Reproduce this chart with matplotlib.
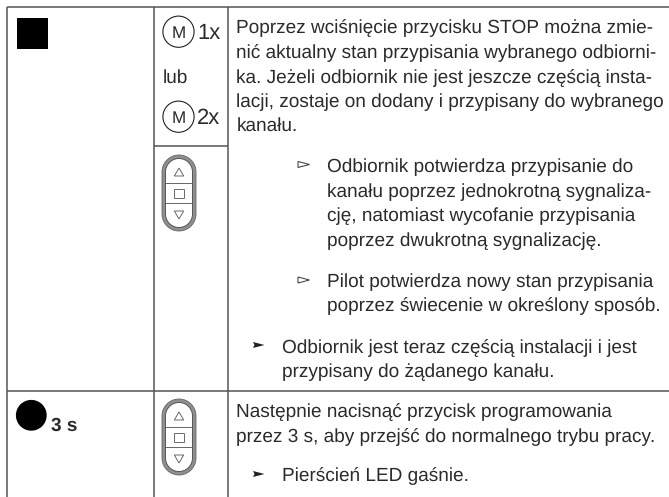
import numpy as np
import matplotlib
matplotlib.use("Agg")
import matplotlib.pyplot as plt
from matplotlib.patches import Circle, Rectangle, Polygon

plt.rcParams["text.hinting"] = "no_hinting"
plt.rcParams["text.hinting_factor"] = 1

W, H = 669, 497
FONT = "Liberation Sans"
INK = "#2b2b2b"
LINE = "#555555"
FS = 13.65

para_lines = [
    (236.5, 33, "Poprzez wciśnięcie przycisku STOP można zmie-"),
    (236.5, 58, "nić aktualny stan przypisania wybranego odbiorni-"),
    (236.5, 83, "ka. Jeżeli odbiornik nie jest jeszcze częścią insta-"),
    (236.5, 107, "lacji, zostaje on dodany i przypisany do wybranego"),
    (236.5, 131, "kanału."),
    (327, 172, "Odbiornik potwierdza przypisanie do"),
    (327, 196.7, "kanału poprzez jednokrotną sygnaliza-"),
    (327, 221.5, "cję, natomiast wycofanie przypisania"),
    (327, 246, "poprzez dwukrotną sygnalizację."),
    (327, 287, "Pilot potwierdza nowy stan przypisania"),
    (327, 311.5, "poprzez świecenie w określony sposób."),
    (281.5, 352.7, "Odbiornik jest teraz częścią instalacji i jest"),
    (281.5, 377, "przypisany do żądanego kanału."),
    (236.5, 417, "Następnie nacisnąć przycisk programowania"),
    (236.5, 441.7, "przez 3 s, aby przejść do normalnego trybu pracy."),
    (281.5, 480.7, "Pierścień LED gaśnie."),
]
hollow_arrows = [(298, 164.5), (298, 280)]
solid_arrows = [(253, 345), (253, 474)]
remote_tops = [155, 399]

fig = plt.figure(figsize=(W / 100, H / 100), dpi=100)
ax = fig.add_axes([0, 0, 1, 1])
ax.set_xlim(0, W)
ax.set_ylim(H, 0)
ax.axis("off")

for x0, y0, x1, y1 in [(6.5, 7, W, 7), (6.5, 7, 6.5, H), (154, 7, 154, H), (227.5, 7, 227.5, H),
                       (154, 146, 227.5, 146), (6.5, 390.5, W, 390.5)]:
    ax.plot([x0, x1], [y0, y1], color=LINE, lw=1.1, solid_capstyle="butt")

ax.add_patch(Rectangle((17, 18), 31, 30.7, fc="black", ec="none"))
ax.add_patch(Circle((31.3, 415.3), 15.4, fc="black", ec="none"))
ax.text(51.2, 430.7, "3 s", fontfamily=FONT, fontsize=13.5, fontweight="bold", color=INK, va="baseline")


def m_button(cy, label, tx, base):
    ax.add_patch(Circle((178.5, cy), 15.6, fc="white", ec="#222222", lw=0.8))
    ax.text(178.5, base - 1.2, "M", fontfamily=FONT, fontsize=12, color=INK, ha="center", va="baseline")
    ax.text(tx, base, label, fontfamily=FONT, fontsize=16, color=INK, va="baseline")


m_button(31.7, "1x", 197.5, 39.3)
m_button(116.7, "2x", 196.5, 124.3)
ax.text(163, 83, "lub", fontfamily=FONT, fontsize=FS, color=INK, va="baseline")


def pill(cx, top, bottom, r):
    t = np.linspace(np.pi, 2 * np.pi, 40)
    up = np.column_stack([cx + r * np.cos(t), top + r + r * np.sin(t)])
    down = np.column_stack([cx + r * np.cos(t - np.pi), bottom - r + r * np.sin(t - np.pi)])
    return np.vstack([up, down])


def remote(top):
    cx = 179
    bottom = top + 76
    ax.add_patch(Polygon(pill(cx, top, bottom, 17), closed=True, fc="#8f8f8f", ec="#666666", lw=0.6))
    ax.add_patch(Polygon(pill(cx, top + 3.5, bottom - 3.5, 13.5), closed=True, fc="white", ec="#555555", lw=0.7))
    ax.plot([cx - 13.2, cx + 13.2], [top + 27.7, top + 27.7], color="#666666", lw=0.7)
    ax.plot([cx - 13.2, cx + 13.2], [top + 47.7, top + 47.7], color="#666666", lw=0.7)
    ax.add_patch(Polygon([(cx - 4.7, top + 21), (cx + 4.7, top + 21), (cx, top + 13)], closed=True,
                         fc="white", ec="#555555", lw=0.6))
    ax.add_patch(Rectangle((cx - 4.7, top + 33.7), 9.4, 9, fc="white", ec="#555555", lw=0.6))
    ax.add_patch(Polygon([(cx - 4.7, top + 56), (cx + 4.7, top + 56), (cx, top + 64)], closed=True,
                         fc="white", ec="#555555", lw=0.6))


for t in remote_tops:
    remote(t)

for x, y, s in para_lines:
    ax.text(x, y, s, fontfamily=FONT, fontsize=FS, color=INK, va="baseline")

for x, y in hollow_arrows:
    ax.add_patch(Polygon([(x, y - 3), (x + 11.5, y), (x, y + 3)], closed=True, fc="white", ec="#333333", lw=0.7))
for x, y in solid_arrows:
    ax.add_patch(Polygon([(x, y - 3), (x + 11.5, y), (x, y + 3), (x + 1.5, y)], closed=True, fc="#222222", ec="none"))

fig.savefig("out.png", dpi=100)
